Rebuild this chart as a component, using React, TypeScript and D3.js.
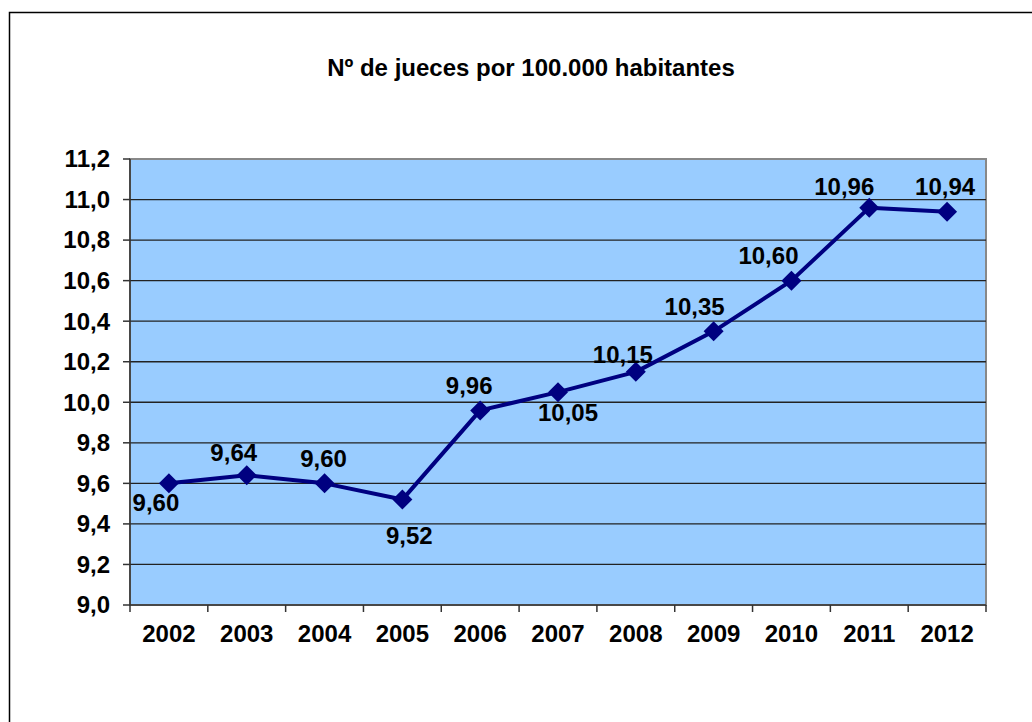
import React from 'react';
import * as d3 from 'd3';

const years = ['2002', '2003', '2004', '2005', '2006', '2007', '2008', '2009', '2010', '2011', '2012'];
const jueces = [9.6, 9.64, 9.6, 9.52, 9.96, 10.05, 10.15, 10.35, 10.6, 10.96, 10.94];
const yTicks = [9.0, 9.2, 9.4, 9.6, 9.8, 10.0, 10.2, 10.4, 10.6, 10.8, 11.0, 11.2];
// label offsets relative to the marker (manually placed in the original)
const labelDx = [-13, -13, -1, 7, -11, 10, -13, -19, -23, -25, -2];
const labelDy = [19, -23, -25, 36, -25, 20, -17, -25, -25, -21, -25];

const W = 1032;
const H = 722;
const plot = { left: 130, top: 159, right: 986, bottom: 605 };
const font = '"Liberation Sans", Arial, sans-serif';
const comma = (v: number, d: number) => v.toFixed(d).replace('.', ',');

const App: React.FC = () => {
  const x = d3.scaleBand().domain(years).range([plot.left, plot.right]);
  const y = d3.scaleLinear().domain([9.0, 11.2]).range([plot.bottom, plot.top]);
  const cx = (d: string) => (x(d) || 0) + x.bandwidth() / 2;

  const line = d3.line<number>()
    .x((_, i) => cx(years[i]))
    .y((v) => y(v));

  // square diamond marker, like Excel's
  const r = 10;
  const diamond = `M0,${-r}L${r},0L0,${r}L${-r},0Z`;

  return (
    <svg width={W} height={H} style={{ position: 'absolute', left: 0, top: 0, background: '#fff' }}
      fontFamily={font}>
      <rect x={9.5} y={12.5} width={W + 10} height={H + 10} fill="#fff" stroke="#000" strokeWidth={1.5} />

      <text x={531} y={76} textAnchor="middle" fontSize={24} fontWeight="bold" fill="#000">
        Nº de jueces por 100.000 habitantes
      </text>

      <rect x={plot.left} y={plot.top} width={plot.right - plot.left} height={plot.bottom - plot.top}
        fill="#99ccff" stroke="#888" strokeWidth={2} />

      {yTicks.slice(1, -1).map((t) => (
        <line key={`g${t}`} x1={plot.left} x2={plot.right} y1={y(t)} y2={y(t)} stroke="#222" strokeWidth={1.3} />
      ))}

      {/* y axis */}
      <line x1={plot.left} x2={plot.left} y1={plot.top} y2={plot.bottom} stroke="#333" strokeWidth={1.5} />
      {yTicks.map((t) => (
        <g key={`y${t}`}>
          <line x1={plot.left - 7} x2={plot.left} y1={y(t)} y2={y(t)} stroke="#333" strokeWidth={1.5} />
          <text x={110} y={y(t)} dy="0.35em" textAnchor="end" fontSize={24} fontWeight="bold" fill="#000">
            {comma(t, 1)}
          </text>
        </g>
      ))}

      {/* x axis */}
      <line x1={plot.left} x2={plot.right} y1={plot.bottom} y2={plot.bottom} stroke="#333" strokeWidth={1.5} />
      {years.concat(['end']).map((d, i) => {
        const xx = i < years.length ? (x(d) || 0) : plot.right;
        return <line key={`xt${i}`} x1={xx} x2={xx} y1={plot.bottom} y2={plot.bottom + 7} stroke="#333" strokeWidth={1.5} />;
      })}
      {years.map((d) => (
        <text key={`xl${d}`} x={cx(d)} y={642} textAnchor="middle" fontSize={24} fontWeight="bold" fill="#000">
          {d}
        </text>
      ))}

      <path d={line(jueces) || ''} fill="none" stroke="#000080" strokeWidth={4} strokeLinejoin="round" />
      {jueces.map((v, i) => (
        <path key={`m${i}`} d={diamond} transform={`translate(${cx(years[i])},${y(v)})`} fill="#000080" />
      ))}
      {jueces.map((v, i) => (
        <text key={`l${i}`} x={cx(years[i]) + labelDx[i]} y={y(v) + labelDy[i]} dy="0.35em"
          textAnchor="middle" fontSize={24} fontWeight="bold" fill="#000">
          {comma(v, 2)}
        </text>
      ))}
    </svg>
  );
};

export default App;
